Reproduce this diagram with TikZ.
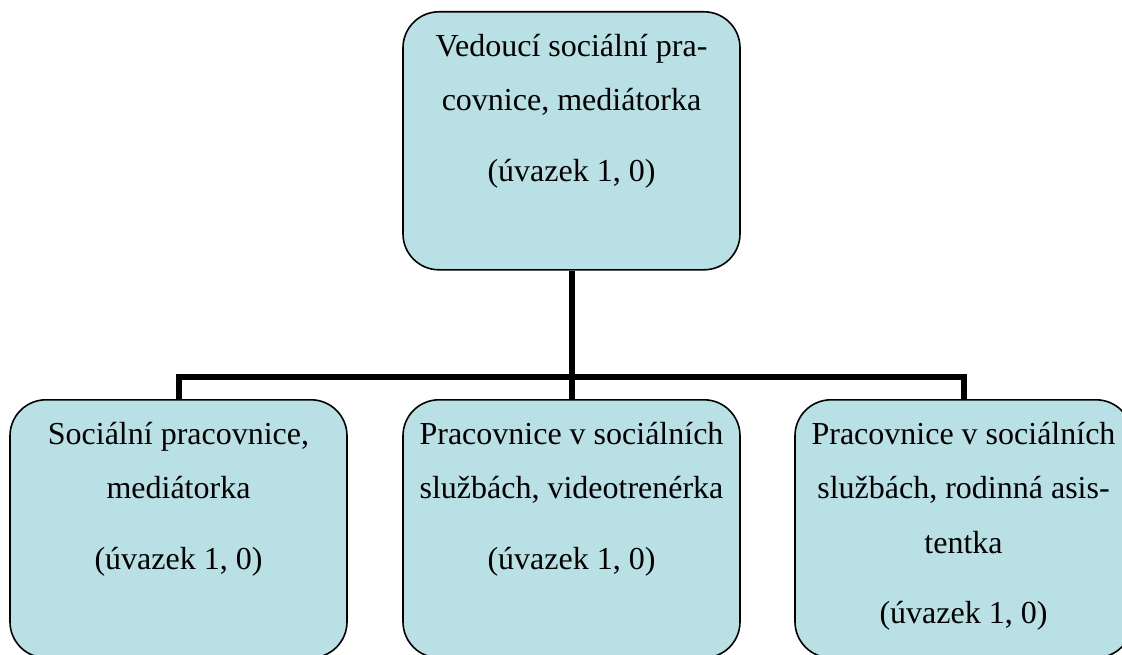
\documentclass[tikz,border=0pt]{standalone}
\usepackage{fontspec}
\setmainfont{Liberation Serif}
\definecolor{boxfill}{RGB}{185,224,228}
\newcommand\firststrut{\rule{0pt}{30pt}}
\begin{document}
\begin{tikzpicture}[x=1pt,y=-1pt,
  box/.style={draw=black, line width=1.6pt, fill=boxfill, rounded corners=36pt,
    minimum width=337pt, minimum height=258pt, inner sep=0pt, anchor=north},
  txt/.style={anchor=north, align=center, inner sep=0pt, yshift=-15pt,
    font=\fontsize{32}{54.5}\selectfont},
  conn/.style={line width=6pt, line join=miter}]
\useasboundingbox (0,0) rectangle (1122,655);
\node[box] (top)   at (571.5,11)  {};
\node[box] (left)  at (178.5,399) {};
\node[box] (mid)   at (571.5,399) {};
\node[box] (right) at (963.5,399) {};
\coordinate (bus) at (571.5,377);
\draw[conn] (left.north) |- (bus) -| (right.north);
\draw[conn] (top.south) -- (mid.north);
\node[txt] (ttop) at (top.north) {\firststrut Vedoucí sociální pra-\\covnice, mediátorka\\[16pt](úvazek 1, 0)};
\node[txt] (tleft) at (left.north) {\firststrut Sociální pracovnice,\\mediátorka\\[16pt](úvazek 1, 0)};
\node[txt] (tmid) at (mid.north) {\firststrut Pracovnice v sociálních\\službách, videotrenérka\\[16pt](úvazek 1, 0)};
\node[txt] (tright) at (right.north) {\firststrut Pracovnice v sociálních\\službách, rodinná asis-\\tentka\\[16pt](úvazek 1, 0)};
\end{tikzpicture}
\end{document}
